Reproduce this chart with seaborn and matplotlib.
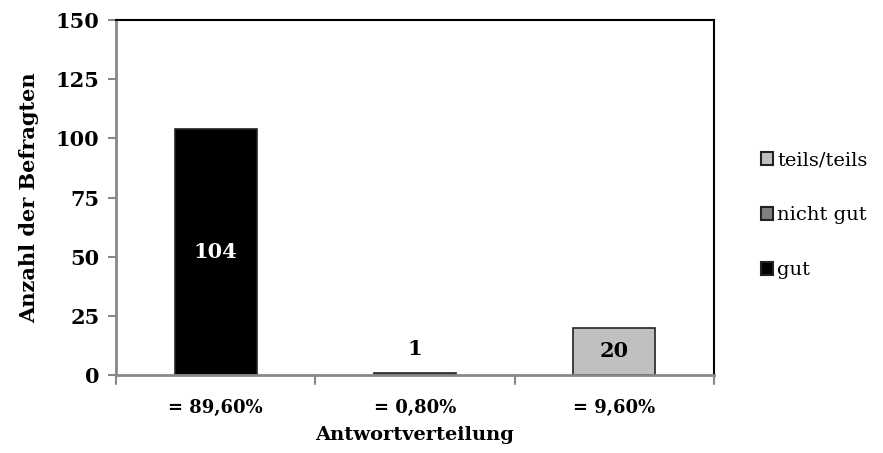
import matplotlib
matplotlib.use("Agg")
import matplotlib.pyplot as plt
import seaborn as sns
import pandas as pd
from matplotlib.patches import Patch

categories = ["= 89,60%", "= 0,80%", "= 9,60%"]
answers = ["gut", "nicht gut", "teils/teils"]
counts = [104, 1, 20]
colors = ["#000000", "#808080", "#c0c0c0"]
yticks = [0, 25, 50, 75, 100, 125, 150]

sns.set_style("white")
plt.rcParams["font.family"] = ["DejaVu Serif"]
plt.rcParams["text.color"] = "black"
plt.rcParams["axes.labelcolor"] = "black"
plt.rcParams["xtick.color"] = "black"
plt.rcParams["ytick.color"] = "black"

df = pd.DataFrame({"kategorie": categories, "antwort": answers, "anzahl": counts})

fig = plt.figure(figsize=(8.83, 4.53), dpi=100)
ax = fig.add_axes([0.1314, 0.1722, 0.6772, 0.7836])

sns.barplot(data=df, x="kategorie", y="anzahl", hue="antwort",
            palette=dict(zip(answers, colors)), dodge=False, width=0.41,
            edgecolor="#222222", linewidth=1.2, legend=False, ax=ax)

ax.set_ylim(0, 150)
ax.set_xlim(-0.5, 2.5)
ax.set_yticks(yticks)
ax.set_yticklabels([str(t) for t in yticks], fontsize=15, fontweight="bold")
ax.set_xticks([0, 1, 2])
ax.set_xticklabels(categories, fontsize=13, fontweight="bold")
ax.tick_params(axis="x", length=0, pad=17)
ax.tick_params(axis="y", length=6, width=1.5, color="#888888", labelcolor="black",
               direction="out", left=True, pad=6)

# boundary ticks on the category axis
for xb in [-0.5, 0.5, 1.5, 2.5]:
    ax.plot([xb, xb], [0, -0.025], transform=ax.get_xaxis_transform(),
            color="#888888", lw=1.5, clip_on=False)

for side in ["left", "bottom"]:
    ax.spines[side].set_color("#888888")
    ax.spines[side].set_linewidth(2)
for side in ["top", "right"]:
    ax.spines[side].set_color("#000000")
    ax.spines[side].set_linewidth(1.5)

ax.set_xlabel("Antwortverteilung", fontsize=14, fontweight="bold", labelpad=7)
ax.set_ylabel("Anzahl der Befragten", fontsize=15, fontweight="bold", labelpad=12)

# value labels
for i, v in enumerate(counts):
    if v >= 50:
        ax.text(i, v / 2, str(v), ha="center", va="center", color="white",
                fontsize=15, fontweight="bold")
    elif v >= 10:
        ax.text(i, v / 2, str(v), ha="center", va="center", color="black",
                fontsize=15, fontweight="bold")
    else:
        ax.text(i, v + 10, str(v), ha="center", va="center", color="black",
                fontsize=15, fontweight="bold")

handles = [Patch(facecolor=c, edgecolor="#222222", linewidth=1.5, label=a)
           for a, c in zip(answers, colors)][::-1]
ax.legend(handles=handles, loc="center left", bbox_to_anchor=(1.05, 0.45),
          frameon=False, fontsize=14, handlelength=0.6, handleheight=0.6,
          handletextpad=0.2, labelspacing=1.9, labelcolor="black")

fig.savefig("out.png", dpi=100)
